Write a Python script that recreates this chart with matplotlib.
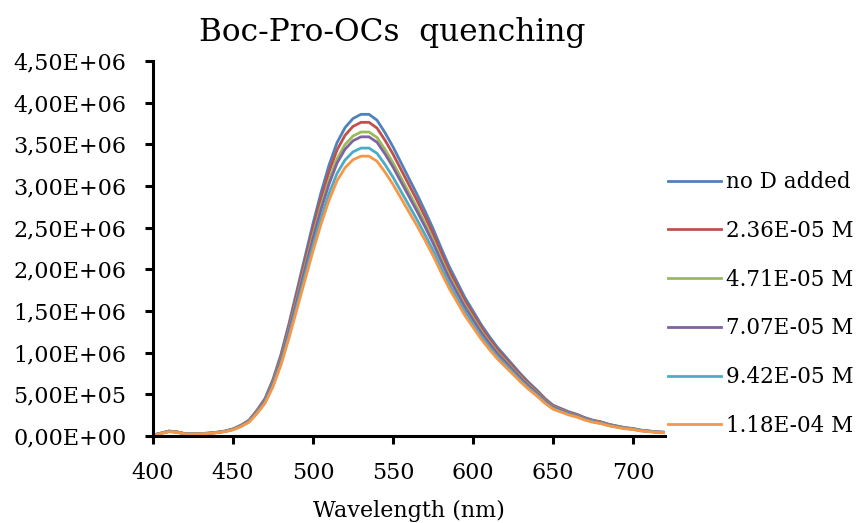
import matplotlib
matplotlib.use("Agg")
import matplotlib.pyplot as plt
from matplotlib.ticker import FuncFormatter, MultipleLocator

plt.rcParams['font.family'] = ['DejaVu Serif']

# Emission wavelengths (nm)
wavelength = list(range(400, 725, 5))

# Fluorescence intensity (x 1E6 counts) for each quencher concentration
no_d_added = [0.010, 0.035, 0.060, 0.050, 0.028, 0.025, 0.030, 0.035, 0.045, 0.060,
              0.085, 0.130, 0.190, 0.310, 0.450, 0.680, 0.980, 1.350, 1.750, 2.150,
              2.550, 2.920, 3.250, 3.520, 3.700, 3.810, 3.860, 3.860, 3.790, 3.640,
              3.470, 3.280, 3.090, 2.900, 2.700, 2.490, 2.260, 2.040, 1.850, 1.660,
              1.500, 1.340, 1.200, 1.070, 0.960, 0.850, 0.740, 0.640, 0.550, 0.450,
              0.370, 0.330, 0.290, 0.260, 0.220, 0.190, 0.170, 0.140, 0.120, 0.100,
              0.090, 0.070, 0.060, 0.050, 0.045]
c_236e5 = [0.010, 0.034, 0.058, 0.049, 0.027, 0.025, 0.029, 0.034, 0.044, 0.058,
           0.083, 0.127, 0.185, 0.302, 0.439, 0.663, 0.956, 1.316, 1.706, 2.096,
           2.486, 2.847, 3.169, 3.432, 3.608, 3.715, 3.764, 3.764, 3.695, 3.549,
           3.383, 3.198, 3.013, 2.828, 2.633, 2.428, 2.204, 1.989, 1.804, 1.619,
           1.463, 1.307, 1.170, 1.043, 0.936, 0.829, 0.722, 0.624, 0.536, 0.439,
           0.361, 0.322, 0.283, 0.254, 0.215, 0.185, 0.166, 0.137, 0.117, 0.098,
           0.088, 0.068, 0.059, 0.049, 0.044]
c_471e5 = [0.010, 0.033, 0.057, 0.047, 0.026, 0.024, 0.028, 0.033, 0.043, 0.057,
           0.080, 0.123, 0.180, 0.293, 0.425, 0.643, 0.926, 1.276, 1.654, 2.032,
           2.410, 2.759, 3.071, 3.326, 3.497, 3.600, 3.648, 3.648, 3.582, 3.440,
           3.279, 3.100, 2.920, 2.741, 2.552, 2.353, 2.136, 1.928, 1.748, 1.569,
           1.418, 1.266, 1.134, 1.011, 0.907, 0.803, 0.699, 0.605, 0.520, 0.425,
           0.350, 0.312, 0.274, 0.246, 0.208, 0.180, 0.161, 0.132, 0.113, 0.095,
           0.085, 0.066, 0.057, 0.047, 0.043]
c_707e5 = [0.010, 0.033, 0.056, 0.047, 0.026, 0.023, 0.028, 0.033, 0.042, 0.056,
           0.079, 0.121, 0.177, 0.288, 0.419, 0.632, 0.911, 1.256, 1.628, 2.000,
           2.372, 2.716, 3.023, 3.274, 3.441, 3.543, 3.590, 3.590, 3.525, 3.385,
           3.227, 3.050, 2.874, 2.697, 2.511, 2.316, 2.102, 1.897, 1.721, 1.544,
           1.395, 1.246, 1.116, 0.995, 0.893, 0.791, 0.688, 0.595, 0.512, 0.419,
           0.344, 0.307, 0.270, 0.242, 0.205, 0.177, 0.158, 0.130, 0.112, 0.093,
           0.084, 0.065, 0.056, 0.047, 0.042]
c_942e5 = [0.009, 0.031, 0.054, 0.045, 0.025, 0.022, 0.027, 0.031, 0.040, 0.054,
           0.076, 0.116, 0.170, 0.277, 0.403, 0.609, 0.877, 1.208, 1.566, 1.924,
           2.282, 2.613, 2.909, 3.150, 3.312, 3.410, 3.455, 3.455, 3.392, 3.258,
           3.106, 2.936, 2.766, 2.596, 2.417, 2.229, 2.023, 1.826, 1.656, 1.486,
           1.343, 1.199, 1.074, 0.958, 0.859, 0.761, 0.662, 0.573, 0.492, 0.403,
           0.331, 0.295, 0.260, 0.233, 0.197, 0.170, 0.152, 0.125, 0.107, 0.090,
           0.081, 0.063, 0.054, 0.045, 0.040]
c_118e4 = [0.009, 0.030, 0.052, 0.044, 0.024, 0.022, 0.026, 0.030, 0.039, 0.052,
           0.074, 0.113, 0.165, 0.270, 0.392, 0.592, 0.853, 1.175, 1.523, 1.871,
           2.219, 2.540, 2.828, 3.062, 3.219, 3.315, 3.358, 3.358, 3.297, 3.167,
           3.019, 2.854, 2.688, 2.523, 2.349, 2.166, 1.966, 1.775, 1.610, 1.444,
           1.305, 1.166, 1.044, 0.931, 0.835, 0.740, 0.644, 0.557, 0.479, 0.392,
           0.322, 0.287, 0.252, 0.226, 0.191, 0.165, 0.148, 0.122, 0.104, 0.087,
           0.078, 0.061, 0.052, 0.044, 0.039]

series_labels = ["no D added", "2.36E-05 M", "4.71E-05 M",
                 "7.07E-05 M", "9.42E-05 M", "1.18E-04 M"]
series_values = [no_d_added, c_236e5, c_471e5, c_707e5, c_942e5, c_118e4]
series_colors = ["#4F81BD", "#C0504D", "#9BBB59", "#8064A2", "#4BACC6", "#F79646"]

x_ticks = [400, 450, 500, 550, 600, 650, 700]

fig = plt.figure(figsize=(8.6, 5.23), dpi=100)
ax = fig.add_axes([153 / 860, 1 - 436 / 523, (665 - 153) / 860, (436 - 61) / 523])

for vals, lab, col in zip(series_values, series_labels, series_colors):
    ax.plot(wavelength, [v * 1e6 for v in vals], color=col, lw=2.0, label=lab,
            solid_joinstyle='round')

ax.set_xlim(400, 720)
ax.set_ylim(0, 4.5e6)
ax.set_xticks(x_ticks)
ax.yaxis.set_major_locator(MultipleLocator(5e5))
ax.yaxis.set_major_formatter(FuncFormatter(lambda v, p: f"{v:.2E}".replace('.', ',')))

for side in ('top', 'right'):
    ax.spines[side].set_visible(False)
for side in ('left', 'bottom'):
    ax.spines[side].set_linewidth(2.2)
ax.tick_params(axis='both', direction='out', length=6, width=2.2,
               labelsize=16, pad=13, colors='black')

ax.set_xlabel("Wavelength (nm)", fontsize=16, labelpad=11)
fig.text(392 / 860, 1 - 32 / 523, "Boc-Pro-OCs  quenching", fontsize=22.5,
         ha='center', va='center')

fig.legend(loc='center left', bbox_to_anchor=(668 / 860, 1 - 304 / 523),
           frameon=False, fontsize=15.5, handlelength=2.45, handletextpad=0.24,
           labelspacing=1.24, borderaxespad=0, borderpad=0)

fig.savefig("out.png", dpi=100)
